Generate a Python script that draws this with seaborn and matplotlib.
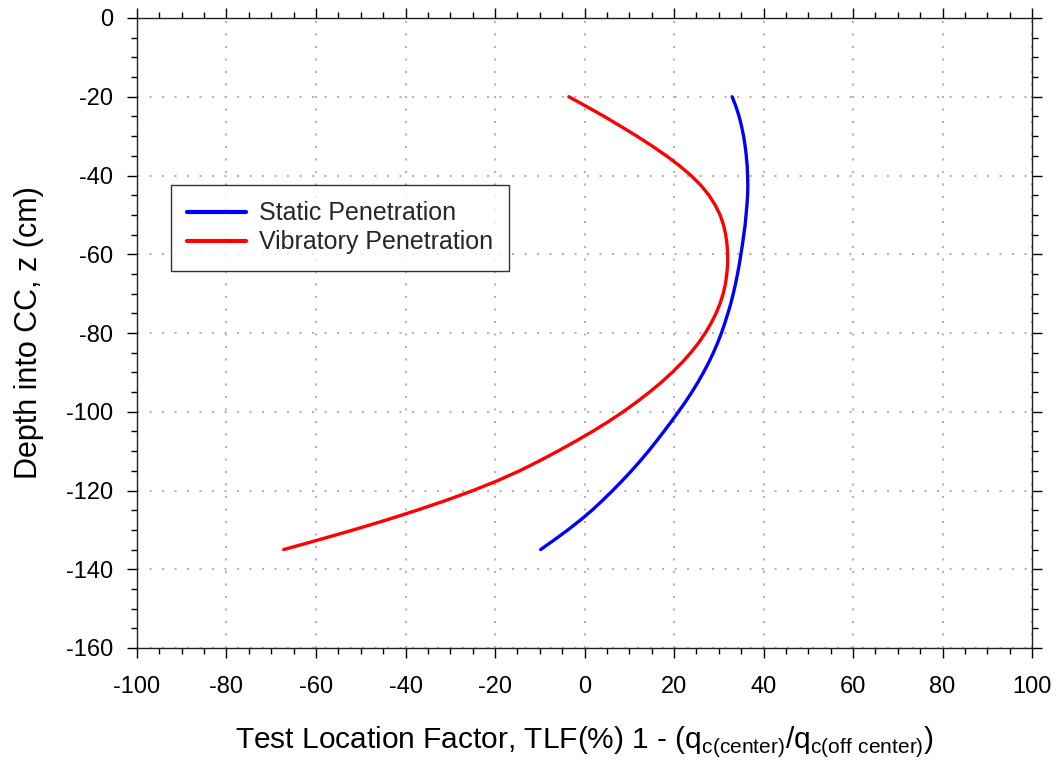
import numpy as np
import pandas as pd
import matplotlib
matplotlib.use("Agg")
import matplotlib.pyplot as plt
from matplotlib.ticker import MultipleLocator
import seaborn as sns

# Depth below the top of the calibration chamber (cm)
depth = [-20, -22.5, -25, -27.5, -30, -32.5, -35, -37.5, -40, -42.5, -45,
         -47.5, -50, -52.5, -55, -57.5, -60, -62.5, -65, -67.5, -70, -72.5,
         -75, -77.5, -80, -82.5, -85, -87.5, -90, -92.5, -95, -97.5, -100,
         -102.5, -105, -107.5, -110, -112.5, -115, -117.5, -120, -122.5,
         -125, -127.5, -130, -132.5, -135]

# Test location factor (%) for static penetration
tlf_static = [33.0, 33.85, 34.55, 35.1, 35.55, 35.9, 36.15, 36.35, 36.45, 36.5, 36.45,
              36.3, 36.1, 35.9, 35.6, 35.3, 34.95, 34.6, 34.2, 33.75, 33.25, 32.7,
              32.05, 31.35, 30.6, 29.75, 28.8, 27.75, 26.6, 25.35, 24.0, 22.55, 21.0,
              19.4, 17.75, 16.05, 14.3, 12.45, 10.5, 8.45, 6.3, 4.05,
              1.7, -0.9, -3.7, -6.7, -9.8]

# Test location factor (%) for vibratory penetration
tlf_vibratory = [-3.5, 0.5, 4.4, 8.1, 11.7, 15.1, 18.3, 21.2, 23.8, 26.0, 27.8,
                 29.2, 30.3, 31.05, 31.55, 31.85, 32.0, 32.0, 31.8, 31.5, 31.0, 30.3,
                 29.4, 28.3, 27.0, 25.5, 23.75, 21.8, 19.6, 17.2, 14.55, 11.7, 8.65,
                 5.35, 1.8, -2.0, -5.95, -10.1, -14.5, -19.4, -24.9, -30.9,
                 -37.4, -44.3, -51.6, -59.3, -67.2]

series_names = ["Static Penetration", "Vibratory Penetration"]
series_colors = ["#0000ff", "#ff0000"]

x_ticks = list(range(-100, 101, 20))
y_ticks = list(range(-160, 1, 20))

df = pd.concat([
    pd.DataFrame({"TLF": tlf_static, "depth": depth, "series": series_names[0]}),
    pd.DataFrame({"TLF": tlf_vibratory, "depth": depth, "series": series_names[1]}),
], ignore_index=True)

sns.set_theme(style="white")
plt.rcParams["font.family"] = ["Liberation Sans", "DejaVu Sans"]
plt.rcParams["mathtext.fontset"] = "custom"
plt.rcParams["mathtext.rm"] = "Liberation Sans"
plt.rcParams["axes.unicode_minus"] = False

fig = plt.figure(figsize=(10.62, 7.66), dpi=100)
ax = fig.add_axes([137 / 1062, 1 - 648 / 766, (1032 - 137) / 1062, (648 - 18) / 766])

sns.lineplot(data=df, x="TLF", y="depth", hue="series", hue_order=series_names,
             palette=series_colors, sort=False, estimator=None, linewidth=2.4,
             ax=ax)

ax.set_xlim(-100, 100)
ax.set_ylim(-160, 0)
ax.set_xticks(x_ticks)
ax.set_yticks(y_ticks)
ax.xaxis.set_minor_locator(MultipleLocator(5))
ax.yaxis.set_minor_locator(MultipleLocator(5))
ax.tick_params(which="both", direction="out", top=True, right=True,
               bottom=True, left=True, color="black", width=1.0,
               labelsize=17, labelcolor="black")
ax.tick_params(axis="x", which="major", pad=13)
ax.tick_params(axis="y", which="major", pad=10)
ax.tick_params(which="major", length=7)
ax.tick_params(which="minor", length=4)

ax.grid(True, which="major", color="#b4b4b4", linestyle=(0, (1, 5)), linewidth=1.5)
for s in ax.spines.values():
    s.set_color("#222222")
    s.set_linewidth(1.0)

ax.set_xlabel(r"Test Location Factor, TLF(%) 1 - (q$_{\mathregular{c(center)}}$"
              r"/q$_{\mathregular{c(off\ center)}}$)", fontsize=21.5, labelpad=19,
              color="black")
ax.set_ylabel("Depth into CC, z (cm)", fontsize=22, labelpad=16, color="black")

leg = ax.legend(loc="upper left", bbox_to_anchor=((171 - 137) / 895, (648 - 185) / 630),
                fontsize=18, frameon=True, fancybox=False, shadow=False,
                handlelength=2.36, borderpad=0.65, labelspacing=0.2,
                handletextpad=0.5, borderaxespad=0)
leg.get_frame().set_edgecolor("black")
leg.get_frame().set_linewidth(1.0)
for h in leg.get_lines():
    h.set_linewidth(3)

fig.savefig("out.png", dpi=100)
